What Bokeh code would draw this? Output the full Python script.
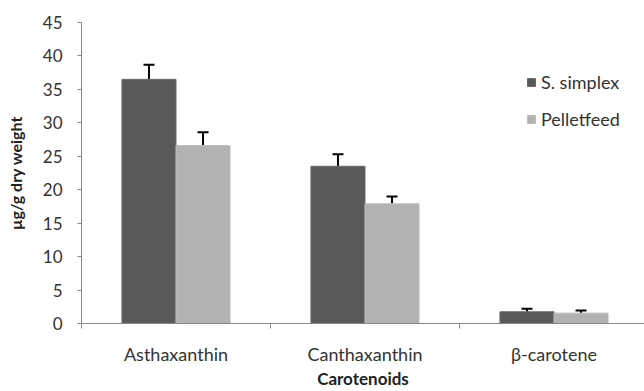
from bokeh.plotting import figure
from bokeh.models import Range1d, FixedTicker, Whisker, TeeHead, ColumnDataSource, Legend, LegendItem
from bokeh.transform import dodge
from bokeh.embed import file_html
from bokeh.resources import INLINE

categories = ["Asthaxanthin", "Canthaxanthin", "β-carotene"]
simplex = [36.5, 23.5, 1.75]
simplex_err = [2.2, 1.8, 0.45]
pellet = [26.6, 17.9, 1.55]
pellet_err = [2.0, 1.1, 0.4]
y_ticks = [0, 5, 10, 15, 20, 25, 30, 35, 40, 45]

xs = [i + 0.5 for i in range(len(categories))]
src = ColumnDataSource(dict(
    x=xs, s=simplex, p=pellet,
    s_up=[v + e for v, e in zip(simplex, simplex_err)],
    p_up=[v + e for v, e in zip(pellet, pellet_err)],
))

FONT = "Lato"
p = figure(width=644, height=391, output_backend="svg", toolbar_location=None,
           x_range=Range1d(0, 563 / 189), y_range=Range1d(0, 45),
           min_border_left=81, min_border_right=0, min_border_top=22, min_border_bottom=68)
p.outline_line_color = None
p.grid.grid_line_color = None

bw = 0.286
r1 = p.vbar(x=dodge("x", -bw / 2), top="s", width=bw, source=src,
            fill_color="#595959", line_color="#6a6a6a", line_width=1)
r2 = p.vbar(x=dodge("x", bw / 2), top="p", width=bw, source=src,
            fill_color="#b2b2b2", line_color="#bdbdbd", line_width=1)

for off, lo, up in [(-bw / 2, "s", "s_up"), (bw / 2, "p", "p_up")]:
    w = Whisker(base=dodge("x", off), lower=lo, upper=up, source=src,
                line_color="black", line_width=2,
                upper_head=TeeHead(size=11, line_color="black", line_width=2),
                lower_head=None)
    p.add_layout(w)

# axes
ax = p.xaxis[0]
ax.ticker = FixedTicker(ticks=xs, minor_ticks=[0, 1, 2, 3])
ax.major_label_overrides = {x: c for x, c in zip(xs, categories)}
ax.major_tick_out = 0
ax.major_tick_in = 0
ax.minor_tick_out = 5
ax.minor_tick_in = 0
ax.minor_tick_line_color = "#888888"
ax.axis_line_color = "#888888"
ax.major_label_standoff = 14
ax.major_label_text_font = FONT
ax.major_label_text_font_size = "18px"
ax.major_label_text_color = "#333333"
ax.axis_label = "Carotenoids"
ax.axis_label_text_font = FONT
ax.axis_label_text_font_size = "17px"
ax.axis_label_text_font_style = "bold"
ax.axis_label_text_color = "#222222"
ax.axis_label_standoff = 0

ay = p.yaxis[0]
ay.ticker = FixedTicker(ticks=y_ticks, minor_ticks=[])
ay.major_tick_out = 4
ay.major_tick_in = 0
ay.major_tick_line_color = "#888888"
ay.axis_line_color = "#888888"
ay.major_label_standoff = 15
ay.major_label_text_font = FONT
ay.major_label_text_font_size = "17px"
ay.major_label_text_color = "#333333"
ay.axis_label = "µg/g dry weight"
ay.axis_label_text_font = FONT
ay.axis_label_text_font_size = "16px"
ay.axis_label_text_font_style = "bold"
ay.axis_label_text_color = "#222222"
ay.axis_label_standoff = 15

legend = Legend(items=[LegendItem(label="S. simplex", renderers=[r1]),
                       LegendItem(label="Pelletfeed", renderers=[r2])],
                location=(445, 193), orientation="vertical",
                glyph_width=10, glyph_height=10, label_height=22, spacing=15,
                label_standoff=5, padding=0, margin=0,
                border_line_color=None, background_fill_alpha=0,
                label_text_font=FONT, label_text_font_size="18px",
                label_text_color="#333333")
p.add_layout(legend)

open("out.html", "w").write(file_html(p, INLINE))
